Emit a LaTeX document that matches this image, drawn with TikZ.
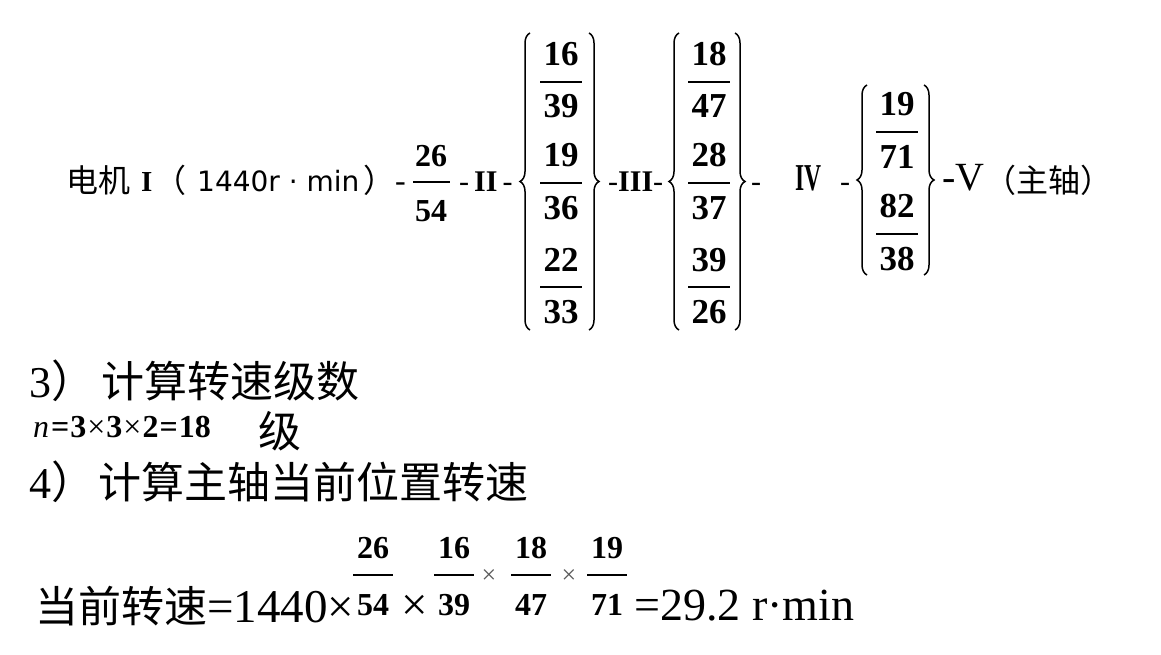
\documentclass[tikz,border=0pt]{standalone}
\usepackage{fontspec}
\usepackage{graphicx}
\setmainfont{Liberation Serif}
\newfontfamily\cjk{Noto Sans CJK SC}
\newfontfamily\dejavu{DejaVu Sans}
\usetikzlibrary{decorations.pathreplacing}

\newcommand\fsz[1]{\fontsize{#1}{#1}\selectfont}

\tikzset{
  txt/.style={anchor=base west,inner sep=0pt},
  num/.style={anchor=base,inner sep=0pt,font=\fsz{35}\bfseries},
  bar/.style={line width=1.8pt},
  brc/.style={decorate,decoration={brace,amplitude=10pt},line width=1.5pt},
}

\begin{document}
\begin{tikzpicture}[x=1pt,y=-1pt]
\useasboundingbox (0,0) rectangle (1161,655);

% gear chain
\path (66,193) node[txt,font={\cjk\fsz{32}}](motor){电机};
\path (141,192) node[txt,font=\fsz{29}\bfseries](s1){I};
\path (154,193) node[txt,font={\cjk\fsz{32}}](lp){（};
\path (197,192) node[txt,font={\dejavu\fsz{28}}](speed){1440r · min};
\path (363,193) node[txt,font={\cjk\fsz{32}}](rp){）};
\path (395,192) node[txt,font=\fsz{32}](d1){-};
\path (431,167) node[num,font=\fsz{32}\bfseries](a-n){26};
\path (431,222) node[num,font=\fsz{32}\bfseries](a-d){54};
\draw[bar] (413,182) -- (450,182);
\path (459,192) node[txt,font=\fsz{30}](s2){-\,\textbf{II}\,-};

\foreach \nm/\n/\d/\x/\y in {b/16/39/561/82, c/19/36/561/183, e/22/33/561/287,
    f/18/47/709/82, g/28/37/709/183, h/39/26/709/287, k/19/71/897/132, m/82/38/897/234}
{
  \path (\x,\y-16) node[num](\nm-n){\n};
  \path (\x,\y+36) node[num](\nm-d){\d};
  \draw[bar] (\x-21,\y) -- (\x+21,\y);
}

\draw[brc] (530,330) -- (530,33);
\draw[brc] (589,33) -- (589,330);
\draw[brc] (679,330) -- (679,33);
\draw[brc] (735,33) -- (735,330);
\draw[brc] (867,275) -- (867,85);
\draw[brc] (924,85) -- (924,275);

\path (608,192) node[txt,font=\fsz{30}](s3){-\textbf{III}-};
\path (751,192) node[txt,font=\fsz{30}](d3){-};
\path (795,190) node[txt,font=\fsz{38}\bfseries](s4){\scalebox{0.62}[1]{IV}};
\path (840,192) node[txt,font=\fsz{30}](d4){-};
\path (942,190) node[txt,font=\fsz{40}](s5){-V};
\path (984,193) node[txt,font={\cjk\fsz{32}}](spindle){（主轴）};

% 3) and 4)
\path (29,397) node[txt,font=\fsz{44}](h3){3{\cjk ）}};
\path (101,397) node[txt,font={\cjk\fsz{43}}](t3){计算转速级数};
\path (33,437) node[txt,font=\fsz{32}\bfseries](eqn){{\mdseries\itshape n}\kern2pt=\kern1pt3\kern1pt{\mdseries×}\kern1pt3\kern1pt{\mdseries×}\kern1pt2\kern1pt=\kern1pt18};
\path (258,447) node[txt,font={\cjk\fsz{43}}](ji){级};
\path (29,498) node[txt,font=\fsz{44}](h4){4{\cjk ）}};
\path (98,498) node[txt,font={\cjk\fsz{43}}](t4){计算主轴当前位置转速};

% current speed
\path (35,622) node[txt,font={\cjk\fsz{43}}](cur){当前转速};
\path (207,622) node[txt,font=\fsz{47}](n1440){=1440×};
\path (401,620) node[txt,font=\fsz{47}](x1){×};
\foreach \nm/\n/\d/\x in {p/26/54/373, q/16/39/454, r/18/47/531, s/19/71/607}
{
  \path (\x,558) node[num,font=\fsz{32}\bfseries](\nm-n){\n};
  \path (\x,615) node[num,font=\fsz{32}\bfseries](\nm-d){\d};
  \draw[bar] (\x-20,575) -- (\x+20,575);
}
\path (489,577) node[inner sep=0pt,font=\fsz{26},text=black!65](x2){×};
\path (569,577) node[inner sep=0pt,font=\fsz{26},text=black!65](x3){×};
\path (634,620) node[txt,font=\fsz{46}](res){=29.2 r·min};

\end{tikzpicture}
\end{document}
